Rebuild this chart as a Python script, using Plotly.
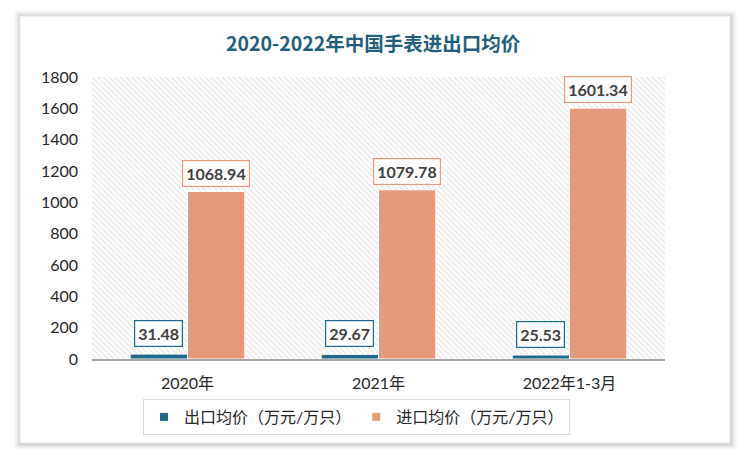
import plotly.graph_objects as go

categories = ["2020年", "2021年", "2022年1-3月"]
export_values = [31.48, 29.67, 25.53]
import_values = [1068.94, 1079.78, 1601.34]
series_names = ["出口均价（万元/万只）", "进口均价（万元/万只）"]
title_text = "2020-2022年中国手表进出口均价"
y_ticks = [0, 200, 400, 600, 800, 1000, 1200, 1400, 1600, 1800]

W, H = 750, 460
L, R, T, B = 92, 85, 77, 101
PW, PH = W - L - R, H - T - B

def px_x(p):
    return (p - L) / PW

def px_y(p):
    return (H - B - p) / PH

BLUE = "#1f6a8c"
ORANGE = "#e59b7b"
TEXT = "#404040"
FONT = "Lato, Noto Sans CJK SC, sans-serif"

fig = go.Figure()

# hatched plot-area background on the base axes
fig.add_trace(go.Scatter(
    x=[0, 1, 1, 0, 0], y=[0, 0, 1, 1, 0], mode="none", fill="toself",
    fillcolor="rgba(0,0,0,0)",
    fillpattern=dict(shape="\\", fgcolor="#cccccc", bgcolor="white", size=4, solidity=0.3),
    hoverinfo="skip", showlegend=False, xaxis="x", yaxis="y"))

fig.add_trace(go.Bar(x=categories, y=export_values, name=series_names[0], showlegend=False,
                     marker=dict(color=BLUE, line=dict(color="white", width=1)),
                     xaxis="x2", yaxis="y2"))
fig.add_trace(go.Bar(x=categories, y=import_values, name=series_names[1], showlegend=False,
                     marker=dict(color=ORANGE, line=dict(color="white", width=1)),
                     xaxis="x2", yaxis="y2"))

# legend entries with small square keys
for name, col in zip(series_names, [BLUE, ORANGE]):
    fig.add_trace(go.Scatter(x=[None], y=[None], mode="markers", name=name,
                             marker=dict(symbol="square", size=8, color=col),
                             xaxis="x2", yaxis="y2"))

bargap = 0.40
cat_px = PW / len(categories)
offset = (1 - bargap) / 4 * cat_px

annotations = []
for c, v in zip(categories, export_values):
    annotations.append(dict(x=c, y=v, xref="x2", yref="y2", text="<b>%.2f</b>" % v,
                            showarrow=False, yanchor="bottom", xshift=-offset, yshift=7,
                            bgcolor="white", bordercolor=BLUE, borderwidth=1.2, borderpad=3,
                            font=dict(family=FONT, size=16, color=TEXT)))
for c, v in zip(categories, import_values):
    annotations.append(dict(x=c, y=v, xref="x2", yref="y2", text="<b>%.2f</b>" % v,
                            showarrow=False, yanchor="bottom", xshift=offset, yshift=5,
                            bgcolor="white", bordercolor=ORANGE, borderwidth=1.2, borderpad=3,
                            font=dict(family=FONT, size=16, color=TEXT)))

annotations.append(dict(text="<b>" + title_text + "</b>", xref="paper", yref="paper",
                        x=px_x(373), y=px_y(42),
                        showarrow=False, xanchor="center", yanchor="middle",
                        font=dict(family="Noto Sans CJK SC, sans-serif", size=19.5, color="#1f5f7c")))

shapes = []
card = (20, 16, 730, 443)
for i, op in [(6, 0.015), (5, 0.02), (4, 0.025), (3, 0.03), (2, 0.035), (1, 0.045)]:
    shapes.append(dict(type="rect", xref="paper", yref="paper", layer="below",
                       x0=px_x(card[0] - i), x1=px_x(card[2] + i + 1),
                       y0=px_y(card[3] + i + 1), y1=px_y(card[1] - i),
                       fillcolor="rgba(0,0,0,%s)" % op, line=dict(width=0)))
shapes.append(dict(type="rect", xref="paper", yref="paper", layer="below",
                   x0=px_x(card[0]), x1=px_x(card[2]), y0=px_y(card[3]), y1=px_y(card[1]),
                   fillcolor="white", line=dict(color="#e6e6e6", width=1)))

fig.update_layout(
    width=W, height=H, margin=dict(l=L, r=R, t=T, b=B, autoexpand=False),
    paper_bgcolor="white", plot_bgcolor="rgba(0,0,0,0)",
    barmode="group", bargap=bargap, bargroupgap=0,
    font=dict(family=FONT, size=14, color=TEXT),
    xaxis=dict(range=[0, 1], visible=False, fixedrange=True),
    yaxis=dict(range=[0, 1], visible=False, fixedrange=True),
    xaxis2=dict(overlaying="x", type="category", showgrid=False, showline=True,
                linecolor="#a6a6a6", linewidth=1.5, ticks="", ticklabelstandoff=9,
                tickfont=dict(size=16, color="#262626")),
    yaxis2=dict(overlaying="y", range=[0, 1800], tickvals=y_ticks, showgrid=False,
                showline=False, zeroline=False, ticks="", ticklabelstandoff=13,
                tickfont=dict(size=16, color="#262626")),
    legend=dict(orientation="h", x=px_x(143), y=px_y(417), xanchor="left", yanchor="middle",
                bordercolor="#d9d9d9", borderwidth=1, bgcolor="white",
                itemsizing="trace", itemwidth=30,
                font=dict(size=16, color="#262626")),
    annotations=annotations, shapes=shapes, showlegend=True,
)

fig.write_html("out.html", config={"displayModeBar": False},
               post_script="document.body.style.margin='0';")
